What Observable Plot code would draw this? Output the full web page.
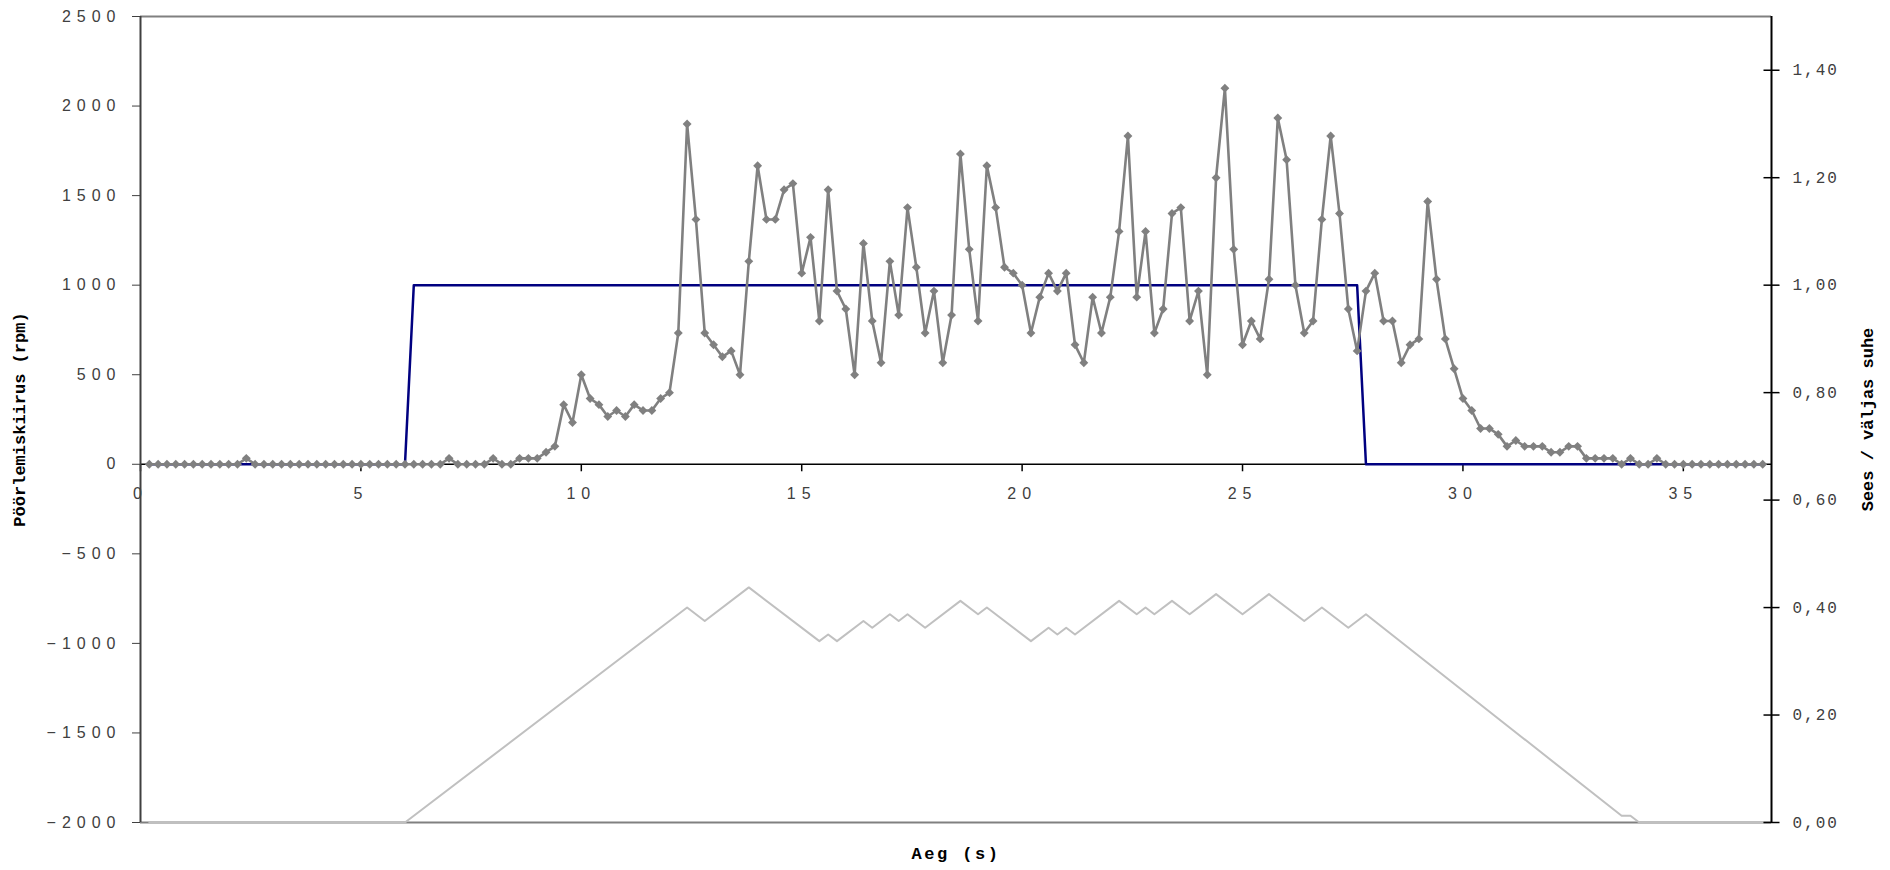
<!DOCTYPE html>
<html>
<head>
<meta charset="utf-8">
<script src="https://cdn.jsdelivr.net/npm/d3@7"></script>
<script src="https://cdn.jsdelivr.net/npm/@observablehq/plot@0.6"></script>
<style>
  html, body { margin: 0; padding: 0; background: #fff; }
  #chart svg { display: block; }
</style>
</head>
<body>
<div id="chart"></div>
<script>
// ---- data ----
const time = [
  0.2,0.4,0.6,0.8,1.0,1.2,1.4,1.6,1.8,2.0,
  2.2,2.4,2.6,2.8,3.0,3.2,3.4,3.6,3.8,4.0,
  4.2,4.4,4.6,4.8,5.0,5.2,5.4,5.6,5.8,6.0,
  6.2,6.4,6.6,6.8,7.0,7.2,7.4,7.6,7.8,8.0,
  8.2,8.4,8.6,8.8,9.0,9.2,9.4,9.6,9.8,10.0,
  10.2,10.4,10.6,10.8,11.0,11.2,11.4,11.6,11.8,12.0,
  12.2,12.4,12.6,12.8,13.0,13.2,13.4,13.6,13.8,14.0,
  14.2,14.4,14.6,14.8,15.0,15.2,15.4,15.6,15.8,16.0,
  16.2,16.4,16.6,16.8,17.0,17.2,17.4,17.6,17.8,18.0,
  18.2,18.4,18.6,18.8,19.0,19.2,19.4,19.6,19.8,20.0,
  20.2,20.4,20.6,20.8,21.0,21.2,21.4,21.6,21.8,22.0,
  22.2,22.4,22.6,22.8,23.0,23.2,23.4,23.6,23.8,24.0,
  24.2,24.4,24.6,24.8,25.0,25.2,25.4,25.6,25.8,26.0,
  26.2,26.4,26.6,26.8,27.0,27.2,27.4,27.6,27.8,28.0,
  28.2,28.4,28.6,28.8,29.0,29.2,29.4,29.6,29.8,30.0,
  30.2,30.4,30.6,30.8,31.0,31.2,31.4,31.6,31.8,32.0,
  32.2,32.4,32.6,32.8,33.0,33.2,33.4,33.6,33.8,34.0,
  34.2,34.4,34.6,34.8,35.0,35.2,35.4,35.6,35.8,36.0,
  36.2,36.4,36.6,36.8
];
const rpm = [
  0,0,0,0,0,0,0,0,0,0,
  0,33,0,0,0,0,0,0,0,0,
  0,0,0,0,0,0,0,0,0,0,
  0,0,0,0,33,0,0,0,0,33,
  0,0,33,33,33,67,100,333,233,500,
  367,333,267,300,267,333,300,300,367,400,
  733,1900,1367,733,667,600,633,500,1133,1667,
  1367,1367,1533,1567,1067,1267,800,1533,967,867,
  500,1233,800,567,1133,833,1433,1100,733,967,
  567,833,1733,1200,800,1667,1433,1100,1067,1000,
  733,933,1067,967,1067,667,567,933,733,933,
  1300,1833,933,1300,733,867,1400,1433,800,967,
  500,1600,2100,1200,667,800,700,1033,1933,1700,
  1000,733,800,1367,1833,1400,867,633,967,1067,
  800,800,567,667,700,1467,1033,700,533,367,
  300,200,200,167,100,133,100,100,100,67,
  67,100,100,33,33,33,33,0,33,0,
  0,33,0,0,0,0,0,0,0,0,
  0,0,0,0
];
// on/off state (left axis units), vertices of the step line
const onOffTime  = [0.2, 6.0, 6.2, 27.6, 27.8, 36.8];
const onOffValue = [0, 0, 1000, 1000, 0, 0];
// on/off ratio (right axis), vertices of the line
const ratioTime = [0.2, 6.0, 12.4, 12.8, 13.8, 15.4, 15.6, 15.8, 16.4, 16.6, 17.0, 17.2, 17.4, 17.8,
  18.6, 19.0, 19.2, 20.2, 20.6, 20.8, 21.0, 21.2, 22.2, 22.6, 22.8, 23.0, 23.4, 23.8, 24.4, 25.0,
  25.6, 26.4, 26.8, 27.4, 27.8, 33.6, 33.8, 34.0, 36.8];
const ratioValue = [0, 0, 0.4, 0.375, 0.4375, 0.3375, 0.35, 0.3375, 0.375, 0.3625, 0.3875, 0.375, 0.3875, 0.3625,
  0.4125, 0.3875, 0.4, 0.3375, 0.3625, 0.35, 0.3625, 0.35, 0.4125, 0.3875, 0.4, 0.3875, 0.4125, 0.3875, 0.425, 0.3875,
  0.425, 0.375, 0.4, 0.3625, 0.3875, 0.0125, 0.0125, 0, 0];

const xTicks = [0, 5, 10, 15, 20, 25, 30, 35];
const leftTicks = [-2000, -1500, -1000, -500, 0, 500, 1000, 1500, 2000, 2500];
const rightTicks = [0, 0.2, 0.4, 0.6, 0.8, 1.0, 1.2, 1.4];

const leftTitle = "Pöörlemiskiirus (rpm)";
const rightTitle = "Sees / väljas suhe";
const bottomTitle = "Aeg (s)";

// ---- tables ----
const rpmData = time.map((t, i) => ({t, v: rpm[i]}));
const onData = onOffTime.map((t, i) => ({t, v: onOffValue[i]}));
const ratioData = ratioTime.map((t, i) => ({t, r: ratioValue[i]}));

// secondary axis: ratio 0..1.5 shares the frame with rpm -2000..2500
const Y0 = -2000, Y1 = 2500, R1 = 1.5;
const toLeft = r => Y0 + r * (Y1 - Y0) / R1;
const X1 = 37;

const crossTick = {draw(ctx) { ctx.moveTo(-8, 0); ctx.lineTo(8, 0); }};
const downTick = {draw(ctx) { ctx.moveTo(0, 0); ctx.lineTo(0, 7); }};

const fmtLeft = d => d < 0 ? "\u2212" + Math.abs(d) : String(d);
const fmtRight = v => ((v - Y0) * R1 / (Y1 - Y0)).toFixed(2).replace(".", ",");

const chart = Plot.plot({
  width: 1890,
  height: 870,
  marginLeft: 140,
  marginRight: 119,
  marginTop: 16,
  marginBottom: 48,
  x: {domain: [0, X1], axis: null},
  y: {domain: [Y0, Y1]},
  style: {fontFamily: "Liberation Sans", background: "#fff", overflow: "visible"},
  marks: [
    Plot.ruleY([Y1], {stroke: "#808080", strokeWidth: 2}),
    Plot.ruleY([Y0], {stroke: "#808080", strokeWidth: 2}),
    Plot.line(ratioData, {x: "t", y: d => toLeft(d.r), stroke: "#c0c0c0", strokeWidth: 2}),
    Plot.ruleY([0], {stroke: "#000", strokeWidth: 1.5}),
    Plot.dot(xTicks, {x: d => d, y: () => 0, symbol: downTick, stroke: "#000", fill: "none", strokeWidth: 1.5}),
    Plot.line(onData, {x: "t", y: "v", stroke: "#000080", strokeWidth: 2.5}),
    Plot.line(rpmData, {x: "t", y: "v", stroke: "#808080", strokeWidth: 2.6}),
    Plot.dot(rpmData, {x: "t", y: "v", symbol: "diamond2", fill: "#808080", stroke: "none", r: 4}),
    Plot.ruleX([0], {stroke: "#404040", strokeWidth: 2}),
    Plot.ruleX([X1], {stroke: "#000", strokeWidth: 2}),
    Plot.axisY({anchor: "left", ticks: leftTicks, tickFormat: fmtLeft, tickSize: 8, tickPadding: 11,
      fontSize: 16, color: "#404040", label: null}),
    Plot.axisY({anchor: "right", ticks: rightTicks.map(toLeft), tickFormat: fmtRight, tickSize: 0, tickPadding: 21,
      fontSize: 16, fontFamily: "Liberation Mono", color: "#404040", label: null}),
    Plot.dot(rightTicks, {x: () => X1, y: d => toLeft(d), symbol: crossTick, stroke: "#000", fill: "none", strokeWidth: 1.5}),
    Plot.text(xTicks, {x: d => d, y: () => 0, text: d => String(d), dy: 30, fontSize: 16, fill: "#404040"}),
    Plot.text([leftTitle], {frameAnchor: "left", textAnchor: "middle", text: d => d, dx: -121, rotate: -90,
      fontFamily: "Liberation Mono", fontWeight: "bold", fontSize: 17, fill: "#000"}),
    Plot.text([rightTitle], {frameAnchor: "right", textAnchor: "middle", text: d => d, dx: 96, rotate: -90,
      fontFamily: "Liberation Mono", fontWeight: "bold", fontSize: 17, fill: "#000"}),
    Plot.text([bottomTitle], {frameAnchor: "bottom", textAnchor: "middle", text: d => d, dy: 36,
      fontFamily: "Liberation Mono", fontWeight: "bold", fontSize: 17, fill: "#000"})
  ]
});

// letter spacing like the original
const yLabels = chart.querySelectorAll('g[aria-label="y-axis tick label"]');
if (yLabels[0]) yLabels[0].setAttribute("letter-spacing", "6");
if (yLabels[1]) yLabels[1].setAttribute("letter-spacing", "2");
const texts = chart.querySelectorAll('g[aria-label="text"]');
if (texts[0]) texts[0].setAttribute("letter-spacing", "6");
if (texts[3]) texts[3].setAttribute("letter-spacing", "2.5");

document.getElementById("chart").append(chart);
</script>
</body>
</html>
